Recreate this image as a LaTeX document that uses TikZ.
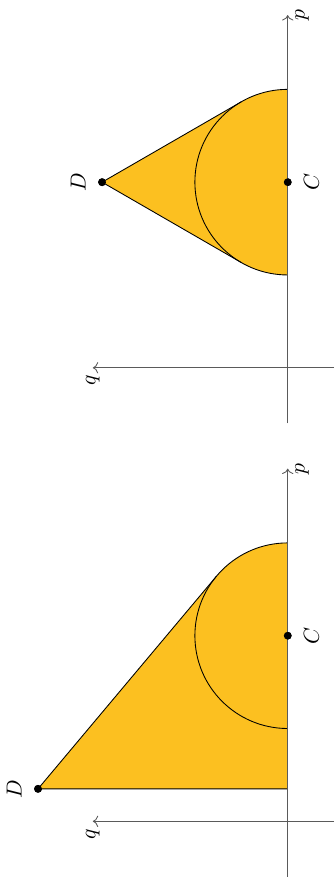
\documentclass[tikz,border=0pt]{standalone}
\usepackage{xcolor}
\usepackage{amsmath,amssymb}
\usepackage{tikz}
\usetikzlibrary{arrows.meta, positioning, calc}
\definecolor{regFill}{HTML}{FCC020}
\definecolor{axisGray}{HTML}{5A5A5A}

\begin{document}
\begin{tikzpicture}[
  x=1.5cm, y=1.5cm, rotate=90, transform shape,
  axis/.style={draw=axisGray, ->},
  region/.style={fill=regFill},
  dot/.style={circle, fill=black, inner sep=0pt, minimum size=3.6pt}
]
  \useasboundingbox (-0.6,-0.5) rectangle (8.85,3.1);

  % left: D far out, one tangent
  \coordinate (pa1) at (-0.6,0);
  \coordinate (pb1) at (3.8,0);
  \coordinate (qa1) at (0,-0.5);
  \coordinate (qb1) at (0,2.1);
  \coordinate (A1) at (3,0);
  \coordinate (B1) at (1,0);
  \coordinate (T1) at ($(2,0)+(50:1)$);
  \coordinate (F1) at (0.35,0);
  \node[dot] (C1) at (2,0) {};
  \node[dot] (D1) at (0.35,2.69) {};
  \fill[region] (A1) arc[start angle=0, end angle=50, radius=1] -- (D1.center) -- (F1) -- cycle;
  \draw (A1) arc[start angle=0, end angle=180, radius=1];
  \draw (F1) -- (D1.center) -- (T1);
  \draw[axis] (pa1) -- (pb1);
  \draw[axis] (qa1) -- (qb1);
  \node[dot] at (C1) {};
  \node[dot] at (D1) {};
  \node[below] (p1) at (pb1) {$p$};
  \node[left] (q1) at (qb1) {$q$};
  \node[below=2pt of C1] (c1) {$C$};
  \node[above=2pt of D1] (d1) {$D$};

  % right: D above C, two tangents
  \begin{scope}[shift={(4.887,0)}]
    \coordinate (pa2) at (-0.6,0);
    \coordinate (pb2) at (3.8,0);
    \coordinate (qa2) at (0,-0.5);
    \coordinate (qb2) at (0,2.1);
    \coordinate (A2) at (3,0);
    \coordinate (B2) at (1,0);
    \coordinate (S2) at ($(2,0)+(150:1)$);
    \node[dot] (C2) at (2,0) {};
    \node[dot] (D2) at (2,2) {};
    \fill[region] (A2) arc[start angle=0, end angle=30, radius=1] -- (D2.center) -- (S2) arc[start angle=150, end angle=180, radius=1] -- cycle;
    \draw (A2) arc[start angle=0, end angle=180, radius=1];
    \draw ($(2,0)+(30:1)$) -- (D2.center) -- (S2);
    \draw[axis] (pa2) -- (pb2);
    \draw[axis] (qa2) -- (qb2);
    \node[dot] at (C2) {};
    \node[dot] at (D2) {};
    \node[below] (p2) at (pb2) {$p$};
    \node[left] (q2) at (qb2) {$q$};
    \node[below=2pt of C2] (c2) {$C$};
    \node[above=2pt of D2] (d2) {$D$};
  \end{scope}
\end{tikzpicture}
\end{document}
